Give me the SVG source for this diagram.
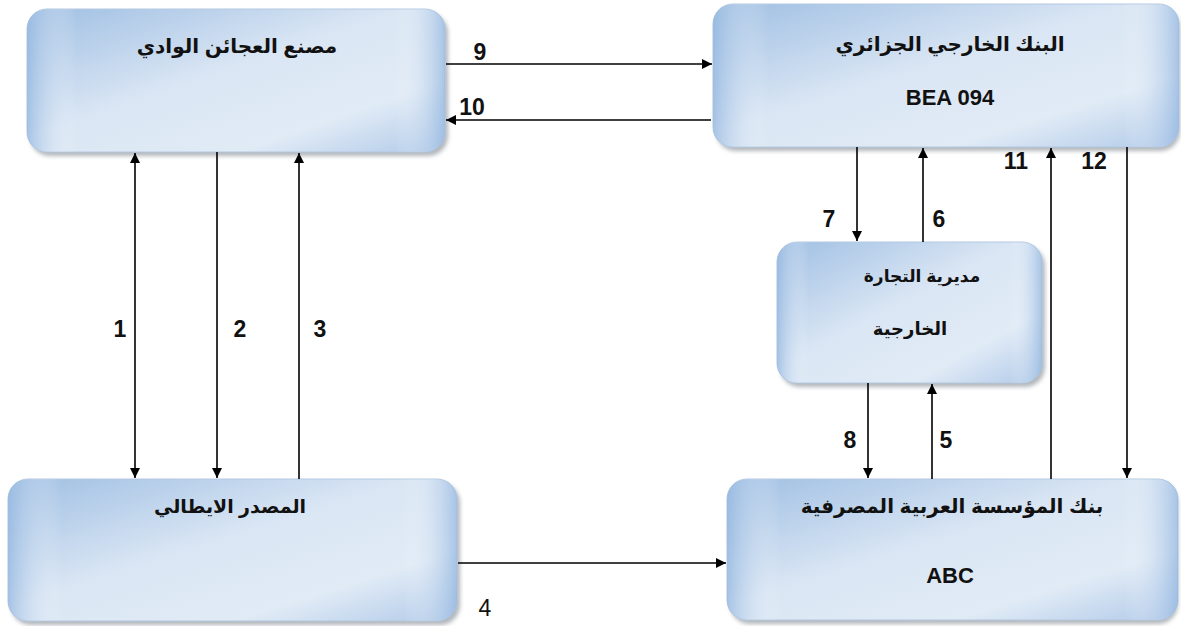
<svg xmlns="http://www.w3.org/2000/svg" width="1181" height="626" viewBox="0 0 1181 626">
<defs>
<linearGradient id="g" x1="0" y1="0" x2="1" y2="1">
<stop offset="0" stop-color="#9fbfe3"/>
<stop offset="0.45" stop-color="#dae6f4"/>
<stop offset="0.75" stop-color="#e1ebf6"/>
<stop offset="1" stop-color="#afc9e8"/>
</linearGradient>
<linearGradient id="h" x1="0" y1="0" x2="1" y2="0">
<stop offset="0" stop-color="#94b7e0" stop-opacity="0.75"/>
<stop offset="0.12" stop-color="#ffffff" stop-opacity="0"/>
<stop offset="0.88" stop-color="#ffffff" stop-opacity="0"/>
<stop offset="1" stop-color="#94b7e0" stop-opacity="0.75"/>
</linearGradient>
<filter id="sh" x="-5%" y="-5%" width="110%" height="120%">
<feGaussianBlur stdDeviation="2"/>
</filter>
<marker id="ah" viewBox="0 0 10 10" refX="10" refY="5" markerWidth="10" markerHeight="10" markerUnits="userSpaceOnUse" orient="auto-start-reverse">
<path d="M0,0 L10,5 L0,10 z" fill="#000"/>
</marker>
</defs>
<style>
.shadow{fill:#7f878f;opacity:0.6;filter:url(#sh)}
.box{fill:url(#g);stroke:#b4c9e1;stroke-width:1}
.ov{fill:url(#h)}
.ar{font-family:"Liberation Sans","DejaVu Sans",sans-serif;font-weight:bold;font-size:20px;fill:#111;text-anchor:middle;direction:rtl}
.en{font-family:"Liberation Sans",Arial,sans-serif;font-weight:bold;font-size:22px;fill:#111;text-anchor:middle}
.lb{font-family:"Liberation Sans",Arial,sans-serif;font-weight:bold;font-size:23px;fill:#111;text-anchor:middle}
.lr{font-family:"Liberation Sans",Arial,sans-serif;font-size:23px;fill:#111;text-anchor:middle}
.c line{stroke:#000;stroke-width:1.6;fill:none}
</style>
<rect width="1181" height="626" fill="#fff"/>

<g id="node-factory">
<rect class="shadow" x="30" y="13" width="418" height="143" rx="20"/>
<rect class="box" x="27" y="9" width="418" height="143" rx="20"/>
<rect class="ov" x="27" y="9" width="418" height="143" rx="20"/>
<text class="ar" x="237" y="53">مصنع العجائن الوادي</text>
</g>

<g id="node-bea">
<rect class="shadow" x="716" y="8" width="464" height="143" rx="20"/>
<rect class="box" x="713" y="4" width="466" height="143" rx="20"/>
<rect class="ov" x="713" y="4" width="466" height="143" rx="20"/>
<text class="ar" x="950" y="51">البنك الخارجي الجزائري</text>
<text class="en" x="950" y="105">BEA 094</text>
</g>

<g id="node-commerce">
<rect class="shadow" x="780" y="246" width="265" height="141" rx="20"/>
<rect class="box" x="777" y="242" width="265" height="141" rx="20"/>
<rect class="ov" x="777" y="242" width="265" height="141" rx="20"/>
<text class="ar" x="922" y="282" style="font-size:17px">مديرية التجارة</text>
<text class="ar" x="910" y="335" style="font-size:18px">الخارجية</text>
</g>

<g id="node-italian">
<rect class="shadow" x="11" y="483" width="449" height="142" rx="20"/>
<rect class="box" x="8" y="479" width="449" height="142" rx="20"/>
<rect class="ov" x="8" y="479" width="449" height="142" rx="20"/>
<text class="ar" x="230" y="513" style="font-size:19px">المصدر الايطالي</text>
</g>

<g id="node-abc">
<rect class="shadow" x="730" y="483" width="448" height="141" rx="20"/>
<rect class="box" x="727" y="479" width="451" height="141" rx="20"/>
<rect class="ov" x="727" y="479" width="451" height="141" rx="20"/>
<text class="ar" x="952" y="513">بنك المؤسسة العربية المصرفية</text>
<text class="en" x="950" y="583">ABC</text>
</g>

<g id="connectors" class="c">
<line x1="446" y1="64" x2="712" y2="64" marker-end="url(#ah)"/>
<line x1="711" y1="120" x2="446" y2="120" marker-end="url(#ah)"/>
<line x1="135" y1="153" x2="135" y2="478" marker-start="url(#ah)" marker-end="url(#ah)"/>
<line x1="217" y1="152" x2="217" y2="478" marker-end="url(#ah)"/>
<line x1="299" y1="479" x2="299" y2="153" marker-end="url(#ah)"/>
<line x1="857" y1="147" x2="857" y2="241" marker-end="url(#ah)"/>
<line x1="923" y1="242" x2="923" y2="148" marker-end="url(#ah)"/>
<line x1="1051" y1="479" x2="1051" y2="148" marker-end="url(#ah)"/>
<line x1="1127" y1="147" x2="1127" y2="478" marker-end="url(#ah)"/>
<line x1="868" y1="383" x2="868" y2="478" marker-end="url(#ah)"/>
<line x1="932" y1="479" x2="932" y2="384" marker-end="url(#ah)"/>
<line x1="458" y1="563" x2="726" y2="563" marker-end="url(#ah)"/>
</g>

<g id="labels">
<text class="lb" x="480" y="60">9</text>
<text class="lb" x="472" y="115">10</text>
<text class="lb" x="120" y="337">1</text>
<text class="lb" x="240" y="337">2</text>
<text class="lb" x="320" y="337">3</text>
<text class="lb" x="829" y="227">7</text>
<text class="lb" x="939" y="227">6</text>
<text class="lb" x="1016" y="169">11</text>
<text class="lb" x="1094" y="169">12</text>
<text class="lb" x="850" y="448">8</text>
<text class="lb" x="946" y="448">5</text>
<text class="lr" x="485" y="616">4</text>
</g>
</svg>
